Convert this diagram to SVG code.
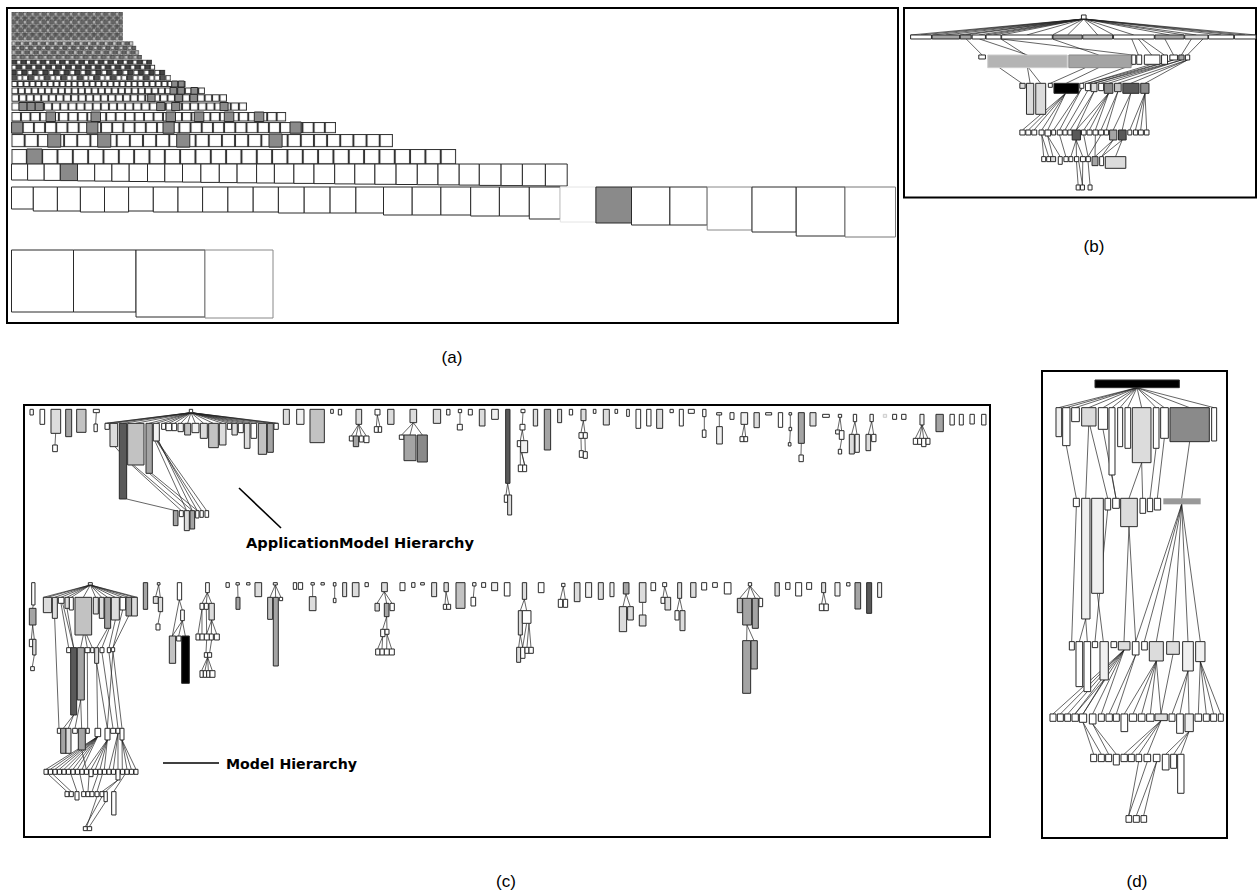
<svg xmlns="http://www.w3.org/2000/svg" width="1258" height="895" viewBox="0 0 1258 895">
<style>
.f{fill:none;stroke:#000;stroke-width:2}
.w{fill:#fff}.v{fill:#f0f0f0}.l{fill:#dcdcdc}.m{fill:#c2c2c2}.g{fill:#a4a4a4}.h{fill:#8a8a8a}.d{fill:#595959}.k{fill:#000}
.n rect{stroke:#2a2a2a;stroke-width:1;vector-effect:non-scaling-stroke}
.e{fill:none;stroke:#222;stroke-width:.7;vector-effect:non-scaling-stroke}
.lab{font-family:"Liberation Sans",Arial,sans-serif;font-size:17px;fill:#000;text-anchor:middle}
.cap{font-family:"DejaVu Sans",Verdana,sans-serif;font-weight:bold;font-size:14px;fill:#000}
</style>
<defs>
<pattern id="p1" patternUnits="userSpaceOnUse" x="11.5" y="149" width="15.33" height="15.33"><rect x=".5" y=".5" width="14.33" height="14.33" fill="#fff" stroke="#333"/></pattern>
<pattern id="p2" patternUnits="userSpaceOnUse" x="11.5" y="134" width="13.15" height="13.15"><rect x=".5" y=".5" width="12.15" height="12.15" fill="#fff" stroke="#333"/></pattern>
<pattern id="p3" patternUnits="userSpaceOnUse" x="11.5" y="122" width="11.19" height="11.19"><rect x=".5" y=".5" width="10.19" height="10.19" fill="#fff" stroke="#333"/></pattern>
<pattern id="p4" patternUnits="userSpaceOnUse" x="11.5" y="112" width="9.47" height="9.47"><rect x=".5" y=".5" width="8.47" height="8.47" fill="#fff" stroke="#333"/></pattern>
<pattern id="p5" patternUnits="userSpaceOnUse" x="11.5" y="102.5" width="8.12" height="8.12"><rect x=".5" y=".5" width="7.12" height="7.12" fill="#fff" stroke="#333"/></pattern>
<pattern id="p6" patternUnits="userSpaceOnUse" x="11.5" y="94.3" width="7.43" height="7.43"><rect x=".5" y=".5" width="6.43" height="6.43" fill="#fff" stroke="#333"/></pattern>
<pattern id="p7" patternUnits="userSpaceOnUse" x="11.5" y="87.5" width="6.67" height="6.67"><rect x=".5" y=".5" width="5.67" height="5.67" fill="#fff" stroke="#333"/></pattern>
<pattern id="p8" patternUnits="userSpaceOnUse" x="11.5" y="81" width="6" height="6"><rect x=".5" y=".5" width="5" height="5" fill="#fff" stroke="#333"/></pattern>
<pattern id="p9" patternUnits="userSpaceOnUse" x="11.5" y="75.2" width="16.5" height="5.5"><rect x=".4" y=".4" width="4.7" height="4.7" fill="#555" stroke="#222" stroke-width=".8"/><rect x="5.9" y=".4" width="4.7" height="4.7" fill="#fff" stroke="#222" stroke-width=".8"/><rect x="11.4" y=".4" width="4.7" height="4.7" fill="#fff" stroke="#222" stroke-width=".8"/></pattern>
<pattern id="p10" patternUnits="userSpaceOnUse" x="11.5" y="69.9" width="10.6" height="5.3"><rect x=".4" y=".4" width="4.5" height="4.5" fill="#444" stroke="#222" stroke-width=".8"/><rect x="5.7" y=".4" width="4.5" height="4.5" fill="#fff" stroke="#222" stroke-width=".8"/></pattern>
<pattern id="p11" patternUnits="userSpaceOnUse" x="11.5" y="64.8" width="9.9" height="4.95"><rect x=".4" y=".4" width="4.15" height="4.15" fill="#fff" stroke="#222" stroke-width=".8"/><rect x="5.35" y=".4" width="4.15" height="4.15" fill="#444" stroke="#222" stroke-width=".8"/></pattern>
<pattern id="p12" patternUnits="userSpaceOnUse" x="11.5" y="59.8" width="9.68" height="4.84"><rect x=".4" y=".4" width="4.04" height="4.04" fill="#444" stroke="#222" stroke-width=".8"/><rect x="5.24" y=".4" width="4.04" height="4.04" fill="#fff" stroke="#222" stroke-width=".8"/></pattern>
<pattern id="p13" patternUnits="userSpaceOnUse" x="11.5" y="55" width="9" height="4.5"><rect x=".4" y=".4" width="3.7" height="3.7" fill="#777" stroke="#333" stroke-width=".7"/><rect x="4.9" y=".4" width="3.7" height="3.7" fill="#bbb" stroke="#333" stroke-width=".7"/></pattern>
<pattern id="p14" patternUnits="userSpaceOnUse" x="11.5" y="50.3" width="8.8" height="4.4"><rect x=".4" y=".4" width="3.6" height="3.6" fill="#bbb" stroke="#333" stroke-width=".7"/><rect x="4.8" y=".4" width="3.6" height="3.6" fill="#666" stroke="#333" stroke-width=".7"/></pattern>
<pattern id="p15" patternUnits="userSpaceOnUse" x="11.5" y="45.8" width="8.6" height="4.3"><rect x=".4" y=".4" width="3.5" height="3.5" fill="#666" stroke="#333" stroke-width=".7"/><rect x="4.7" y=".4" width="3.5" height="3.5" fill="#ccc" stroke="#333" stroke-width=".7"/></pattern>
<pattern id="p16" patternUnits="userSpaceOnUse" x="11.5" y="41.4" width="8.4" height="4.2"><rect x=".4" y=".4" width="3.4" height="3.4" fill="#ccc" stroke="#333" stroke-width=".7"/><rect x="4.6" y=".4" width="3.4" height="3.4" fill="#666" stroke="#333" stroke-width=".7"/></pattern>
<pattern id="p17" patternUnits="userSpaceOnUse" x="11.5" y="12" width="7.68" height="8.2"><rect x=".4" y=".4" width="3.04" height="3.3" fill="#666" stroke="#3a3a3a" stroke-width=".6"/><rect x="4.24" y=".4" width="3.04" height="3.3" fill="#b0b0b0" stroke="#3a3a3a" stroke-width=".6"/><rect x=".4" y="4.5" width="3.04" height="3.3" fill="#999" stroke="#3a3a3a" stroke-width=".6"/><rect x="4.24" y="4.5" width="3.04" height="3.3" fill="#555" stroke="#3a3a3a" stroke-width=".6"/></pattern>
</defs>
<rect width="1258" height="895" fill="#fff"/>

<g id="panel-a">
<rect class="f" x="7" y="8" width="891" height="315"/>
<g id="a-pattern-rows">
<rect x="11.5" y="12" width="111.4" height="28.7" fill="url(#p17)"/>
<rect x="11.5" y="41.4" width="121.8" height="4.2" fill="url(#p16)"/>
<rect x="11.5" y="45.8" width="124.7" height="4.3" fill="url(#p15)"/>
<rect x="11.5" y="50.3" width="127.6" height="4.4" fill="url(#p14)"/>
<rect x="11.5" y="55" width="130.5" height="4.5" fill="url(#p13)"/>
<rect x="11.5" y="59.8" width="140.4" height="4.84" fill="url(#p12)"/>
<rect x="11.5" y="64.8" width="143.6" height="4.95" fill="url(#p11)"/>
<rect x="11.5" y="69.9" width="153.7" height="5.3" fill="url(#p10)"/>
<rect x="11.5" y="75.2" width="159.5" height="5.5" fill="url(#p9)"/>
<rect x="11.5" y="81" width="174" height="6" fill="url(#p8)"/>
<rect x="11.5" y="87.5" width="193.4" height="6.67" fill="url(#p7)"/>
<rect x="11.5" y="94.3" width="215.5" height="7.43" fill="url(#p6)"/>
<rect x="11.5" y="102.5" width="235.5" height="8.12" fill="url(#p5)"/>
<rect x="11.5" y="112" width="274.6" height="9.47" fill="url(#p4)"/>
<rect x="11.5" y="122" width="324.5" height="11.19" fill="url(#p3)"/>
<rect x="11.5" y="134" width="381.4" height="13.15" fill="url(#p2)"/>
<rect x="11.5" y="149" width="444.6" height="15.33" fill="url(#p1)"/>
</g>
<g id="a-gray-cells" class="n">
<rect class="h" x="26.8" y="149" width="15.3" height="15.3"/>
<rect class="h" x="47.7" y="134" width="13.1" height="13.1"/><rect class="h" x="97.7" y="134" width="13.1" height="13.1"/><rect class="h" x="176.7" y="134" width="13.1" height="13.1"/><rect class="h" x="269" y="134" width="13.1" height="13.1"/>
<rect class="h" x="11.6" y="122" width="11.2" height="11.2"/><rect class="h" x="86.7" y="122" width="11.2" height="11.2"/><rect class="h" x="163" y="122" width="11.2" height="11.2"/><rect class="h" x="290" y="122" width="11.2" height="11.2"/>
<rect class="h" x="46" y="112" width="9.5" height="9.5"/><rect class="h" x="91" y="112" width="9.5" height="9.5"/><rect class="h" x="166" y="112" width="9.5" height="9.5"/><rect class="h" x="194.3" y="112" width="9.5" height="9.5"/><rect class="h" x="224.3" y="112" width="9.5" height="9.5"/><rect class="h" x="254.3" y="112" width="9.5" height="9.5"/>
<rect class="h" x="19" y="102.5" width="8.1" height="8.1"/><rect class="h" x="27.1" y="102.5" width="8.1" height="8.1"/><rect class="h" x="35.2" y="102.5" width="8.1" height="8.1"/><rect class="h" x="156.7" y="102.5" width="8.1" height="8.1"/><rect class="h" x="171.7" y="102.5" width="8.1" height="8.1"/><rect class="h" x="220" y="102.5" width="8.1" height="8.1"/>
<rect class="h" x="147.7" y="94.3" width="7.4" height="7.4"/><rect class="h" x="175" y="94.3" width="7.4" height="7.4"/><rect class="h" x="190" y="94.3" width="7.4" height="7.4"/>
<rect class="h" x="170" y="87.5" width="6.7" height="6.7"/><rect class="h" x="177.7" y="87.5" width="6.7" height="6.7"/><rect class="h" x="191" y="87.5" width="6.7" height="6.7"/>
<rect class="h" x="171.7" y="81" width="6" height="6"/><rect class="h" x="178.3" y="81" width="6" height="6"/>
</g>
<g id="a-row-b" class="n">
<rect class="w" x="11.5" y="164" width="16.1" height="16"/><rect class="w" x="27.6" y="164" width="16.6" height="16.2"/><rect class="w" x="44.2" y="164" width="16.1" height="16.4"/><rect class="h" x="60.3" y="164" width="17.2" height="16.6"/><rect class="w" x="77.5" y="164" width="17.2" height="16.9"/><rect class="w" x="94.7" y="164" width="17.2" height="17.1"/><rect class="w" x="111.9" y="164" width="17.3" height="17.3"/><rect class="w" x="129.2" y="164" width="18.3" height="17.5"/><rect class="w" x="147.5" y="164" width="17.3" height="17.7"/><rect class="w" x="164.8" y="164" width="17.7" height="17.9"/><rect class="w" x="182.5" y="164" width="18.4" height="18.1"/><rect class="w" x="200.9" y="164" width="18.4" height="18.4"/><rect class="w" x="219.3" y="164" width="17.8" height="18.6"/><rect class="w" x="237.1" y="164" width="19.5" height="18.8"/><rect class="w" x="256.6" y="164" width="17.8" height="19"/><rect class="w" x="274.4" y="164" width="19.5" height="19.2"/><rect class="w" x="293.9" y="164" width="20.1" height="19.4"/><rect class="w" x="314" y="164" width="20.7" height="19.6"/><rect class="w" x="334.7" y="164" width="20.1" height="19.9"/><rect class="w" x="354.8" y="164" width="20.1" height="20.1"/><rect class="w" x="374.9" y="164" width="21.2" height="20.3"/><rect class="w" x="396.1" y="164" width="21.2" height="20.5"/><rect class="w" x="417.3" y="164" width="20.7" height="20.7"/><rect class="w" x="438" y="164" width="21.2" height="20.9"/><rect class="w" x="459.2" y="164" width="20.1" height="21.1"/><rect class="w" x="479.3" y="164" width="21.8" height="21.4"/><rect class="w" x="501.1" y="164" width="21.3" height="21.6"/><rect class="w" x="522.4" y="164" width="23" height="21.8"/><rect class="w" x="545.4" y="164" width="21.8" height="22"/>
</g>
<g id="a-row-c" class="n">
<rect class="w" x="11.5" y="187" width="21.8" height="22"/><rect class="w" x="33.3" y="187" width="24.1" height="24"/><rect class="w" x="57.4" y="187" width="23" height="24"/><rect class="w" x="80.4" y="187" width="24.1" height="25"/><rect class="w" x="104.5" y="187" width="24.1" height="25"/><rect class="w" x="128.6" y="187" width="24.7" height="24"/><rect class="w" x="153.3" y="187" width="24.7" height="25"/><rect class="w" x="178" y="187" width="24.6" height="25"/><rect class="w" x="202.6" y="187" width="25.3" height="25"/><rect class="w" x="227.9" y="187" width="25.3" height="25"/><rect class="w" x="253.2" y="187" width="25.2" height="25"/><rect class="w" x="278.4" y="187" width="25.8" height="26"/><rect class="w" x="304.2" y="187" width="25.9" height="26"/><rect class="w" x="330.1" y="187" width="25.8" height="26"/><rect class="w" x="355.9" y="187" width="27.6" height="26"/><rect class="w" x="383.5" y="187" width="28.7" height="28"/><rect class="w" x="412.2" y="187" width="28.7" height="28"/><rect class="w" x="440.9" y="187" width="29.8" height="28"/><rect class="w" x="470.7" y="187" width="28.7" height="29"/><rect class="w" x="499.4" y="187" width="29.9" height="29"/><rect class="w" x="529.3" y="187" width="31" height="32"/><rect class="w" x="560.3" y="187" width="35.6" height="35" style="stroke:#e4e4e4"/><rect class="h" x="595.9" y="187" width="35.6" height="36"/><rect class="w" x="631.5" y="187" width="38.4" height="38"/><rect class="w" x="669.9" y="187" width="37.3" height="38"/><rect class="w" x="707.2" y="187" width="44.8" height="43" style="stroke:#888"/><rect class="w" x="752" y="187" width="44.2" height="45"/><rect class="w" x="796.2" y="187" width="48.8" height="49"/><rect class="w" x="845" y="187" width="50.5" height="50" style="stroke:#777"/>
</g>
<g id="a-row-d" class="n">
<rect class="w" x="11.5" y="250" width="62" height="62"/><rect class="w" x="73.5" y="250" width="62.5" height="62"/><rect class="w" x="136" y="250" width="69" height="67"/><rect class="w" x="205" y="250" width="68" height="68" style="stroke:#888"/>
</g>
</g>

<g id="panel-b">
<rect class="f" x="904" y="8" width="352" height="189.5"/>
<g id="b-tree" transform="translate(900,5) scale(.3311,.3333)">
<path class="e" d="M555 42 63 90M555 42 32 90M555 42 138 90M555 42 198 90M555 42 238 90M555 42 282 90M555 42 383 90M555 42 506 90M555 42 597 90M555 42 706 90M555 42 814 90M555 42 895 90M555 42 970 90M555 42 1042 90M555 42 1075 90M555 42 100 90M555 42 180 90M555 42 260 90M555 42 307 90M555 42 460 90M555 42 645 90M555 42 858 90M555 42 1010 90M200 102 248 150M240 102 385 150M305 102 380 150M305 102 702 150M460 102 600 150M700 102 720 150M720 102 760 150M730 102 798 150M800 102 826 150M880 102 850 150M915 102 868 150M300 188 368 235M385 188 393 235M388 188 425 235M560 188 454 235M600 188 502 235M706 178 549 235M760 178 567 235M799 178 586 235M826 165 586 235M826 165 567 235M850 165 607 235M850 165 630 235M868 165 658 235M868 165 697 235M868 165 740 235M500 265 370 375M500 265 388 375M500 265 405 375M500 265 428 375M500 265 446 375M549 250 464 375M549 250 482 375M567 257 498 375M586 260 514 375M586 260 532 375M630 265 532 375M630 265 555 375M630 265 572 375M630 265 590 375M658 260 607 375M658 260 623 375M697 265 644 375M697 265 671 375M740 265 694 375M740 265 711 375M740 265 727 375M740 265 745 375M428 390 434 455M428 390 449 455M446 393 462 455M446 393 484 455M482 390 501 455M532 405 516 455M532 405 533 455M532 405 552 455M555 390 568 455M590 390 589 455M607 390 568 455M644 405 589 455M644 405 609 455M671 405 609 455M671 405 651 455M533 470 538 540M540 470 551 540M552 470 551 540M568 470 574 540"/>
<g class="n">
<rect class="w" x="548" y="30" width="14" height="12"/>
<rect class="w" x="32" y="90" width="63" height="12"/><rect class="g" x="97" y="90" width="83" height="12"/><rect class="g" x="182" y="90" width="33" height="12"/><rect class="w" x="218" y="90" width="40" height="12"/><rect class="w" x="260" y="90" width="45" height="12"/><rect class="w" x="307" y="90" width="153" height="12"/><rect class="g" x="462" y="90" width="88" height="12"/><rect class="m" x="552" y="90" width="90" height="12"/><rect class="w" x="645" y="90" width="123" height="12"/><rect class="g" x="770" y="90" width="88" height="12"/><rect class="l" x="860" y="90" width="70" height="12"/><rect class="w" x="932" y="90" width="76" height="12"/><rect class="w" x="1010" y="90" width="65" height="12"/>
<rect class="w" x="238" y="150" width="20" height="12"/><rect x="265" y="150" width="240" height="38" fill="#b4b4b4" style="stroke:#ccc"/><rect x="510" y="150" width="188" height="38" fill="#a4a4a4" style="stroke:#888"/><rect class="w" x="700" y="150" width="12" height="28"/><rect class="w" x="715" y="150" width="15" height="28"/><rect class="w" x="738" y="150" width="47" height="28"/><rect class="w" x="790" y="150" width="18" height="28"/><rect class="w" x="815" y="150" width="23" height="15"/><rect class="g" x="842" y="150" width="16" height="15"/><rect class="w" x="862" y="150" width="13" height="15"/>
<rect class="l" x="362" y="235" width="16" height="15"/><rect class="l" x="382" y="235" width="22" height="93"/><rect class="l" x="410" y="235" width="30" height="93"/><rect class="w" x="448" y="235" width="12" height="12"/><rect class="k" x="465" y="235" width="75" height="30"/><rect class="w" x="543" y="235" width="12" height="15"/><rect class="w" x="560" y="235" width="15" height="22"/><rect class="l" x="577" y="235" width="18" height="25"/><rect class="w" x="600" y="235" width="15" height="22"/><rect class="h" x="617" y="235" width="26" height="30"/><rect class="m" x="648" y="235" width="20" height="25"/><rect class="d" x="673" y="235" width="49" height="30"/><rect class="h" x="727" y="235" width="25" height="30"/>
<rect class="w" x="362" y="375" width="16" height="15"/><rect class="w" x="380" y="375" width="15" height="15"/><rect class="w" x="398" y="375" width="15" height="15"/><rect class="w" x="420" y="375" width="15" height="15"/><rect class="w" x="438" y="375" width="17" height="18"/><rect class="w" x="458" y="375" width="12" height="15"/><rect class="w" x="475" y="375" width="15" height="15"/><rect class="w" x="492" y="375" width="13" height="15"/><rect class="w" x="507" y="375" width="13" height="15"/><rect class="d" x="520" y="375" width="25" height="30"/><rect class="w" x="548" y="375" width="14" height="15"/><rect class="w" x="565" y="375" width="15" height="15"/><rect class="w" x="583" y="375" width="15" height="15"/><rect class="w" x="600" y="375" width="15" height="15"/><rect class="w" x="617" y="375" width="13" height="15"/><rect class="g" x="633" y="375" width="22" height="30"/><rect class="d" x="660" y="375" width="23" height="30"/><rect class="w" x="688" y="375" width="12" height="15"/><rect class="w" x="705" y="375" width="13" height="15"/><rect class="w" x="720" y="375" width="15" height="15"/><rect class="w" x="738" y="375" width="14" height="15"/>
<rect class="w" x="428" y="455" width="12" height="15"/><rect class="w" x="443" y="455" width="12" height="15"/><rect class="l" x="455" y="455" width="15" height="15"/><rect class="w" x="478" y="455" width="12" height="23"/><rect class="w" x="495" y="455" width="13" height="15"/><rect class="w" x="510" y="455" width="12" height="15"/><rect class="w" x="527" y="455" width="13" height="15"/><rect class="w" x="545" y="455" width="15" height="15"/><rect class="w" x="562" y="455" width="13" height="15"/><rect class="g" x="580" y="455" width="18" height="27"/><rect class="w" x="603" y="455" width="12" height="27"/><rect class="l" x="620" y="455" width="62" height="35"/>
<rect class="w" x="532" y="540" width="12" height="15"/><rect class="w" x="545" y="540" width="12" height="15"/><rect class="w" x="568" y="540" width="12" height="15"/>
</g>
</g>
</g>

<g id="panel-c">
<rect class="f" x="24" y="405" width="966" height="432"/>
<g id="c-top-left" transform="translate(20,400) scale(.3333)">
<path class="e" d="M107 100 105 135M229 38 227 72M513 38 261 70M513 38 281 70M513 38 309 70M513 38 347 70M513 38 387 70M513 38 409 70M513 38 431 70M513 38 446 70M513 38 463 70M513 38 482 70M513 38 503 70M513 38 526 70M513 38 551 70M513 38 580 70M513 38 608 70M513 38 628 70M513 38 644 70M513 38 662 70M513 38 681 70M513 38 701 70M513 38 727 70M513 38 751 70M513 38 768 70M513 38 255 70M513 38 775 70M320 297 467 332M335 195 484 332M340 195 500 332M388 220 517 332M395 220 532 332M405 123 500 332M410 123 545 332M412 123 560 332M414 123 532 332M416 123 517 332M285 140 298 155"/>
<g class="n">
<rect class="w" x="30" y="28" width="10" height="17"/><rect class="w" x="60" y="28" width="14" height="45"/><rect class="l" x="93" y="28" width="29" height="72"/><rect class="w" x="98" y="135" width="14" height="20"/><rect class="g" x="137" y="28" width="18" height="82"/><rect class="m" x="170" y="28" width="28" height="69"/><rect class="w" x="220" y="28" width="18" height="10"/><rect class="w" x="222" y="72" width="10" height="23"/>
<rect class="w" x="508" y="28" width="10" height="10"/>
<rect class="w" x="255" y="70" width="13" height="18"/><rect class="l" x="270" y="70" width="23" height="70"/><rect class="d" x="298" y="70" width="22" height="227"/><rect class="m" x="323" y="70" width="49" height="125"/><rect class="g" x="378" y="70" width="19" height="150"/><rect class="v" x="400" y="70" width="18" height="53"/><rect class="w" x="425" y="70" width="12" height="18"/><rect class="w" x="438" y="70" width="17" height="22"/><rect class="w" x="456" y="70" width="14" height="22"/><rect class="v" x="474" y="70" width="16" height="25"/><rect class="m" x="494" y="70" width="18" height="35"/><rect class="v" x="516" y="70" width="21" height="28"/><rect class="l" x="541" y="70" width="21" height="45"/><rect class="m" x="566" y="70" width="29" height="73"/><rect class="l" x="598" y="70" width="20" height="65"/><rect class="w" x="622" y="70" width="13" height="18"/><rect class="l" x="636" y="70" width="16" height="35"/><rect class="w" x="655" y="70" width="15" height="28"/><rect class="l" x="673" y="70" width="17" height="75"/><rect class="w" x="693" y="70" width="17" height="45"/><rect class="m" x="715" y="70" width="25" height="93"/><rect class="g" x="742" y="70" width="18" height="87"/><rect class="w" x="762" y="70" width="13" height="18"/>
<rect class="g" x="460" y="332" width="14" height="45"/><rect class="w" x="478" y="332" width="12" height="18"/><rect class="l" x="493" y="332" width="15" height="60"/><rect class="g" x="510" y="332" width="14" height="55"/><rect class="w" x="527" y="332" width="10" height="22"/><rect class="w" x="540" y="332" width="10" height="20"/><rect class="w" x="555" y="332" width="11" height="20"/>
</g>
</g>
<g id="c-top-mid" transform="translate(280,400) scale(.3333)">
<path class="e" d="M236 73 214 108M236 73 228 108M236 73 244 108M236 73 259 108M292 45 289 80M292 45 300 80M400 68 365 105M400 68 390 105M400 68 427 105M540 38 540 73M683 250 678 285M683 250 689 285M729 38 727 73M727 90 721 122M727 90 732 122M721 140 721 195M725 158 734 195M721 140 734 195M910 62 903 98M910 62 915 98M903 115 904 152M915 115 916 155"/>
<g class="n">
<rect class="l" x="10" y="28" width="18" height="45"/><rect class="v" x="50" y="28" width="22" height="45"/><rect class="m" x="90" y="28" width="43" height="100"/><rect class="w" x="152" y="28" width="8" height="12"/><rect class="w" x="175" y="28" width="10" height="17"/>
<rect class="l" x="228" y="28" width="17" height="45"/><rect class="w" x="208" y="108" width="12" height="15"/><rect class="g" x="220" y="108" width="16" height="32"/><rect class="w" x="238" y="108" width="12" height="18"/><rect class="w" x="252" y="108" width="15" height="20"/>
<rect class="w" x="285" y="28" width="15" height="17"/><rect class="w" x="283" y="80" width="12" height="17"/><rect class="w" x="295" y="80" width="10" height="17"/>
<rect class="l" x="323" y="28" width="19" height="45"/>
<rect class="l" x="390" y="28" width="20" height="40"/><rect class="w" x="358" y="105" width="14" height="13"/><rect class="g" x="372" y="105" width="36" height="77"/><rect class="h" x="412" y="105" width="30" height="81"/>
<rect class="l" x="460" y="28" width="22" height="42"/><rect class="w" x="500" y="28" width="10" height="17"/><rect class="w" x="535" y="28" width="10" height="10"/><rect class="w" x="532" y="73" width="15" height="17"/><rect class="w" x="565" y="28" width="12" height="17"/><rect class="l" x="598" y="28" width="17" height="50"/><rect class="v" x="635" y="28" width="20" height="30"/>
<rect class="d" x="677" y="28" width="13" height="222"/><rect class="w" x="673" y="285" width="10" height="22"/><rect class="l" x="683" y="285" width="12" height="60"/>
<rect class="w" x="723" y="28" width="12" height="10"/><rect class="w" x="720" y="73" width="15" height="17"/><rect class="w" x="712" y="122" width="18" height="18"/><rect class="v" x="722" y="122" width="21" height="36"/><rect class="w" x="715" y="195" width="13" height="20"/><rect class="w" x="728" y="195" width="12" height="20"/>
<rect class="l" x="760" y="28" width="13" height="50"/><rect class="g" x="793" y="28" width="19" height="122"/><rect class="l" x="833" y="28" width="12" height="40"/><rect class="w" x="868" y="28" width="10" height="17"/>
<rect class="l" x="903" y="28" width="15" height="34"/><rect class="w" x="897" y="98" width="13" height="17"/><rect class="w" x="910" y="98" width="12" height="17"/><rect class="w" x="898" y="152" width="12" height="20"/><rect class="w" x="910" y="155" width="12" height="20"/>
<rect class="w" x="940" y="28" width="8" height="12"/><rect class="l" x="970" y="28" width="18" height="47"/><rect class="w" x="1005" y="28" width="8" height="12"/>
</g>
</g>
<g id="c-top-right" transform="translate(620,400) scale(.3333)">
<path class="e" d="M253 50 253 90M298 45 298 80M373 73 366 110M373 73 377 110M511 45 511 82M511 92 509 128M544 130 543 165M660 52 653 90M660 52 665 92M665 118 660 148M705 65 695 103M705 65 711 103M755 65 745 103M755 65 761 103M906 75 886 115M906 75 899 115M906 75 911 115M906 75 924 115"/>
<g class="n">
<rect class="w" x="20" y="28" width="8" height="21"/><rect class="w" x="48" y="28" width="14" height="57"/><rect class="w" x="80" y="28" width="13" height="50"/><rect class="l" x="110" y="28" width="18" height="57"/><rect class="w" x="150" y="28" width="10" height="10"/><rect class="w" x="178" y="28" width="12" height="50"/><rect class="w" x="205" y="28" width="18" height="12"/>
<rect class="w" x="248" y="28" width="10" height="22"/><rect class="w" x="247" y="90" width="11" height="22"/>
<rect class="w" x="290" y="38" width="15" height="7"/><rect class="v" x="290" y="80" width="17" height="52"/>
<rect class="w" x="330" y="38" width="12" height="20"/>
<rect class="v" x="363" y="38" width="20" height="35"/><rect class="w" x="360" y="110" width="12" height="15"/><rect class="w" x="372" y="110" width="11" height="15"/>
<rect class="l" x="402" y="38" width="16" height="45"/><rect class="w" x="437" y="38" width="18" height="7"/><rect class="w" x="475" y="38" width="13" height="44"/>
<rect class="w" x="507" y="38" width="8" height="7"/><rect class="w" x="507" y="82" width="8" height="10"/><rect class="w" x="505" y="128" width="8" height="10"/>
<rect class="g" x="535" y="38" width="18" height="92"/><rect class="w" x="537" y="165" width="13" height="20"/>
<rect class="l" x="570" y="38" width="18" height="40"/><rect class="w" x="608" y="43" width="20" height="9"/>
<rect class="w" x="655" y="43" width="10" height="9"/><rect class="w" x="647" y="90" width="13" height="12"/><rect class="w" x="658" y="92" width="14" height="26"/><rect class="w" x="655" y="148" width="10" height="14"/>
<rect class="w" x="700" y="43" width="10" height="22"/><rect class="l" x="688" y="103" width="15" height="59"/><rect class="v" x="705" y="103" width="13" height="54"/>
<rect class="w" x="750" y="43" width="10" height="22"/><rect class="l" x="738" y="103" width="14" height="49"/><rect class="w" x="755" y="103" width="13" height="22"/>
<rect class="v" x="790" y="43" width="10" height="9" style="stroke:#ccc"/><rect class="w" x="818" y="43" width="12" height="15"/><rect class="w" x="845" y="43" width="13" height="15"/>
<rect class="v" x="900" y="43" width="12" height="32"/><rect class="w" x="880" y="115" width="13" height="18"/><rect class="w" x="893" y="115" width="12" height="18"/><rect class="w" x="905" y="115" width="13" height="25"/><rect class="w" x="918" y="115" width="12" height="18"/>
<rect class="g" x="948" y="43" width="22" height="52"/><rect class="w" x="990" y="43" width="13" height="32"/><rect class="w" x="1018" y="43" width="12" height="32"/><rect class="w" x="1050" y="43" width="13" height="29"/><rect class="w" x="1085" y="43" width="13" height="32"/>
</g>
</g>
<g id="c-bottom-left" transform="translate(20,570) scale(.3333)">
<path class="e" d="M40 105 38 115M38 165 34 208M38 165 43 208M43 255 37 290M211 45 82 82M211 45 104 82M211 45 123 82M211 45 141 82M211 45 154 82M211 45 190 82M211 45 227 82M211 45 245 82M211 45 263 82M211 45 286 82M211 45 308 82M211 45 326 82M211 45 343 82M211 45 70 82M211 45 352 82M123 100 146 233M128 100 161 233M141 115 161 233M190 195 182 233M195 195 202 233M200 195 217 233M263 175 230 233M268 175 246 233M286 150 267 233M308 120 279 233M326 138 279 233M104 145 117 475M161 435 130 475M161 435 145 475M182 390 165 475M182 390 185 475M202 248 203 475M230 280 233 475M230 280 262 475M246 248 279 475M267 248 294 475M279 245 306 475M279 245 262 475M233 500 78 598M233 500 91 598M233 500 105 598M233 500 118 598M233 500 132 598M233 500 145 598M233 500 159 598M233 500 172 598M233 500 186 598M262 510 199 598M262 510 213 598M262 510 226 598M262 510 240 598M262 510 253 598M185 540 199 598M294 490 267 598M294 490 280 598M294 490 294 598M306 510 307 598M306 510 321 598M306 510 334 598M306 510 348 598M85 613 141 665M99 613 154 665M153 613 171 665M180 613 191 665M207 620 204 665M234 613 216 665M247 613 231 665M294 630 246 665M294 630 257 665M315 613 281 665M246 680 196 770M257 695 208 770M231 680 200 770M416 45 407 80M416 45 421 82M421 125 414 162M478 90 487 120M478 90 457 198M487 152 457 198M487 152 476 198M487 152 496 198M562 68 546 100M562 68 559 100M562 68 575 100M546 118 534 192M546 118 546 192M559 118 560 192M575 150 574 192M575 150 590 192M575 150 560 192M560 210 558 248M575 210 569 248M563 262 545 302M563 262 555 302M563 262 565 302M563 262 577 302M653 45 654 82M766 45 750 82M766 45 767 82M766 45 783 82M878 45 878 80"/>
<g class="n">
<rect class="w" x="35" y="38" width="10" height="67"/><rect class="g" x="28" y="115" width="20" height="50"/><rect class="w" x="28" y="208" width="12" height="22"/><rect class="l" x="38" y="208" width="10" height="47"/><rect class="w" x="32" y="290" width="11" height="12"/>
<rect class="w" x="205" y="38" width="12" height="7"/>
<rect class="l" x="70" y="82" width="25" height="46"/><rect class="l" x="97" y="82" width="15" height="63"/><rect class="w" x="115" y="82" width="17" height="18"/><rect class="l" x="135" y="82" width="13" height="33"/><rect class="w" x="148" y="82" width="12" height="38"/><rect class="m" x="165" y="82" width="50" height="113"/><rect class="l" x="220" y="82" width="15" height="50"/><rect class="l" x="238" y="82" width="14" height="63"/><rect class="g" x="254" y="82" width="18" height="93"/><rect class="l" x="274" y="82" width="24" height="68"/><rect class="w" x="300" y="82" width="17" height="38"/><rect class="g" x="318" y="82" width="17" height="56"/><rect class="l" x="335" y="82" width="17" height="56"/>
<rect class="w" x="140" y="233" width="12" height="15"/><rect class="d" x="152" y="233" width="18" height="202"/><rect class="g" x="172" y="233" width="21" height="157"/><rect class="w" x="195" y="233" width="15" height="15"/><rect class="w" x="212" y="233" width="10" height="15"/><rect class="l" x="224" y="233" width="12" height="47"/><rect class="w" x="240" y="233" width="12" height="15"/><rect class="w" x="262" y="233" width="10" height="15"/><rect class="w" x="274" y="233" width="10" height="12"/>
<rect class="w" x="112" y="475" width="10" height="15"/><rect class="g" x="122" y="475" width="16" height="75"/><rect class="l" x="138" y="475" width="15" height="75"/><rect class="w" x="158" y="475" width="14" height="15"/><rect class="g" x="175" y="475" width="21" height="65"/><rect class="w" x="198" y="475" width="10" height="15"/><rect class="w" x="225" y="475" width="17" height="25"/><rect class="w" x="255" y="475" width="15" height="35"/><rect class="w" x="272" y="475" width="15" height="15"/><rect class="w" x="288" y="475" width="12" height="15"/><rect class="w" x="300" y="475" width="12" height="35"/>
<rect class="w" x="72" y="598" width="12" height="15"/><rect class="w" x="85.5" y="598" width="12" height="15"/><rect class="w" x="99" y="598" width="12" height="15"/><rect class="w" x="112.5" y="598" width="12" height="15"/><rect class="w" x="126" y="598" width="12" height="15"/><rect class="w" x="139.5" y="598" width="12" height="15"/><rect class="w" x="153" y="598" width="12" height="15"/><rect class="w" x="166.5" y="598" width="12" height="15"/><rect class="w" x="180" y="598" width="12" height="15"/><rect class="w" x="193.5" y="598" width="12" height="15"/><rect class="w" x="207" y="598" width="12" height="22"/><rect class="w" x="220.5" y="598" width="12" height="15"/><rect class="w" x="234" y="598" width="12" height="15"/><rect class="w" x="247.5" y="598" width="12" height="15"/><rect class="w" x="261" y="598" width="12" height="15"/><rect class="w" x="274.5" y="598" width="12" height="15"/><rect class="w" x="288" y="598" width="12" height="32"/><rect class="w" x="301.5" y="598" width="12" height="15"/><rect class="w" x="315" y="598" width="12" height="15"/><rect class="w" x="328.5" y="598" width="12" height="15"/><rect class="w" x="342" y="598" width="12" height="15"/>
<rect class="w" x="135" y="665" width="12" height="15"/><rect class="w" x="148" y="665" width="12" height="15"/><rect class="w" x="165" y="665" width="12" height="25"/><rect class="w" x="185" y="665" width="12" height="15"/><rect class="w" x="198" y="665" width="12" height="15"/><rect class="w" x="210" y="665" width="12" height="15"/><rect class="w" x="225" y="665" width="12" height="15"/><rect class="w" x="240" y="665" width="12" height="15"/><rect class="w" x="252" y="665" width="10" height="30"/><rect class="w" x="275" y="665" width="13" height="70"/>
<rect class="w" x="190" y="770" width="12" height="12"/><rect class="w" x="202" y="770" width="13" height="12"/>
<rect class="g" x="370" y="38" width="13" height="80"/>
<rect class="w" x="412" y="38" width="8" height="7"/><rect class="l" x="400" y="80" width="15" height="20"/><rect class="l" x="415" y="82" width="13" height="43"/><rect class="w" x="408" y="162" width="12" height="18"/>
<rect class="w" x="472" y="38" width="13" height="52"/><rect class="w" x="482" y="120" width="11" height="32"/><rect class="m" x="448" y="198" width="19" height="82"/><rect class="w" x="470" y="198" width="13" height="15"/><rect class="k" x="485" y="198" width="23" height="142"/>
<rect class="w" x="557" y="38" width="11" height="30"/><rect class="w" x="540" y="100" width="12" height="18"/><rect class="w" x="553" y="100" width="12" height="18"/><rect class="l" x="567" y="100" width="16" height="50"/><rect class="w" x="528" y="192" width="12" height="18"/><rect class="w" x="540" y="192" width="13" height="18"/><rect class="w" x="553" y="192" width="15" height="18"/><rect class="w" x="568" y="192" width="12" height="18"/><rect class="w" x="583" y="192" width="15" height="18"/><rect class="w" x="553" y="248" width="10" height="14"/><rect class="w" x="563" y="248" width="12" height="14"/><rect class="w" x="540" y="302" width="10" height="20"/><rect class="w" x="550" y="302" width="10" height="20"/><rect class="w" x="560" y="302" width="10" height="20"/><rect class="w" x="570" y="302" width="15" height="20"/>
<rect class="w" x="618" y="38" width="10" height="14"/><rect class="w" x="648" y="38" width="10" height="7"/><rect class="g" x="648" y="82" width="12" height="36"/><rect class="w" x="680" y="38" width="10" height="7"/><rect class="l" x="705" y="38" width="20" height="42"/>
<rect class="w" x="760" y="38" width="12" height="7"/><rect class="m" x="743" y="82" width="15" height="66"/><rect class="g" x="760" y="82" width="15" height="206"/><rect class="w" x="778" y="82" width="10" height="10"/>
<rect class="w" x="820" y="38" width="10" height="20"/><rect class="w" x="835" y="38" width="13" height="20"/><rect class="w" x="873" y="38" width="10" height="7"/><rect class="l" x="868" y="80" width="20" height="42"/><rect class="w" x="903" y="38" width="10" height="7"/>
</g>
</g>
<g id="c-bottom-mid" transform="translate(330,570) scale(.3333)">
<path class="e" d="M14 48 14 85M163 65 141 100M163 65 170 100M163 65 186 100M170 140 158 178M170 140 171 178M158 200 143 237M158 200 156 237M171 193 170 237M171 193 185 237M348 65 345 103M348 65 356 103M433 48 430 82M583 88 571 122M583 88 590 122M571 195 566 232M571 195 578 232M590 160 578 232M597 160 591 232M597 160 603 232M700 50 691 88M700 50 706 88M888 72 879 110M888 72 901 110M938 97 938 135"/>
<g class="n">
<rect class="w" x="10" y="38" width="8" height="10"/><rect class="w" x="10" y="85" width="8" height="13"/><rect class="l" x="38" y="38" width="12" height="42"/><rect class="l" x="67" y="38" width="20" height="42"/><rect class="w" x="105" y="38" width="10" height="12"/>
<rect class="l" x="155" y="38" width="17" height="27"/><rect class="l" x="135" y="100" width="13" height="23"/><rect class="g" x="163" y="100" width="14" height="40"/><rect class="w" x="180" y="100" width="13" height="22"/><rect class="w" x="152" y="178" width="13" height="22"/><rect class="w" x="165" y="178" width="12" height="15"/><rect class="w" x="137" y="237" width="13" height="18"/><rect class="w" x="150" y="237" width="13" height="18"/><rect class="w" x="163" y="237" width="15" height="18"/><rect class="w" x="178" y="237" width="15" height="18"/>
<rect class="w" x="210" y="38" width="15" height="24"/><rect class="w" x="245" y="38" width="10" height="14"/><rect class="w" x="272" y="38" width="11" height="7"/><rect class="l" x="305" y="38" width="15" height="42"/>
<rect class="l" x="342" y="38" width="13" height="27"/><rect class="w" x="340" y="103" width="10" height="15"/><rect class="w" x="350" y="103" width="12" height="15"/>
<rect class="m" x="378" y="38" width="27" height="77"/><rect class="w" x="428" y="38" width="10" height="10"/><rect class="w" x="423" y="82" width="14" height="26"/><rect class="w" x="455" y="38" width="12" height="14"/><rect class="v" x="485" y="38" width="18" height="24"/><rect class="w" x="523" y="38" width="17" height="40"/>
<rect class="l" x="577" y="38" width="13" height="50"/><rect class="l" x="565" y="122" width="12" height="73"/><rect class="w" x="577" y="122" width="26" height="38"/><rect class="l" x="560" y="232" width="12" height="45"/><rect class="w" x="572" y="232" width="13" height="33"/><rect class="w" x="585" y="232" width="12" height="18"/><rect class="w" x="597" y="232" width="13" height="18"/>
<rect class="w" x="625" y="38" width="17" height="30"/><rect class="w" x="695" y="40" width="10" height="10"/><rect class="w" x="685" y="88" width="13" height="24"/><rect class="w" x="700" y="88" width="13" height="24"/>
<rect class="l" x="733" y="38" width="17" height="57"/><rect class="v" x="767" y="38" width="18" height="44"/><rect class="l" x="805" y="38" width="15" height="50"/><rect class="v" x="840" y="38" width="12" height="42"/>
<rect class="g" x="880" y="38" width="17" height="34"/><rect class="l" x="868" y="110" width="22" height="75"/><rect class="l" x="893" y="110" width="17" height="40"/>
<rect class="l" x="928" y="38" width="20" height="59"/><rect class="l" x="928" y="135" width="20" height="33"/><rect class="w" x="963" y="38" width="14" height="24"/>
</g>
</g>
<g id="c-bottom-right" transform="translate(640,570) scale(.3333)">
<path class="e" d="M74 50 69 82M74 50 83 82M119 85 111 122M119 85 127 122M330 48 299 85M330 48 321 85M330 48 346 85M330 48 362 85M321 165 320 212M321 165 342 212M551 68 545 102M551 68 558 102"/>
<g class="n">
<rect class="w" x="68" y="38" width="12" height="12"/><rect class="w" x="63" y="82" width="12" height="18"/><rect class="l" x="75" y="82" width="17" height="38"/>
<rect class="l" x="113" y="38" width="12" height="47"/><rect class="w" x="105" y="122" width="12" height="28"/><rect class="l" x="120" y="122" width="15" height="60"/>
<rect class="l" x="152" y="38" width="16" height="44"/><rect class="w" x="185" y="38" width="15" height="22"/><rect class="w" x="218" y="38" width="14" height="14"/><rect class="w" x="253" y="38" width="20" height="34"/>
<rect class="w" x="325" y="38" width="10" height="10"/><rect class="m" x="292" y="85" width="15" height="43"/><rect class="g" x="308" y="85" width="27" height="80"/><rect class="g" x="337" y="85" width="18" height="90"/><rect class="w" x="357" y="85" width="11" height="25"/><rect class="g" x="308" y="212" width="24" height="158"/><rect class="g" x="333" y="212" width="19" height="85"/>
<rect class="l" x="405" y="38" width="13" height="40"/><rect class="w" x="437" y="38" width="13" height="20"/><rect class="w" x="467" y="38" width="18" height="40"/><rect class="w" x="500" y="38" width="15" height="20"/>
<rect class="l" x="545" y="38" width="12" height="30"/><rect class="w" x="538" y="102" width="14" height="20"/><rect class="w" x="552" y="102" width="13" height="20"/>
<rect class="v" x="585" y="38" width="15" height="40"/><rect class="w" x="620" y="38" width="10" height="10"/><rect class="g" x="645" y="38" width="17" height="79"/><rect class="d" x="680" y="38" width="15" height="92"/><rect class="v" x="713" y="38" width="12" height="44"/>
</g>
</g>
<g id="c-annotations">
<line x1="239" y1="488" x2="281" y2="528" stroke="#000" stroke-width="1.6"/>
<text class="cap" x="246" y="548" textLength="228" lengthAdjust="spacingAndGlyphs">ApplicationModel Hierarchy</text>
<line x1="163" y1="763" x2="219" y2="763" stroke="#000" stroke-width="1.6"/>
<text class="cap" x="226" y="769" textLength="131" lengthAdjust="spacingAndGlyphs">Model Hierarchy</text>
</g>
</g>

<g id="panel-d">
<rect class="f" x="1042" y="371" width="185" height="467"/>
<g id="d-tree" transform="translate(1040,365) scale(.3333)">
<path class="e" d="M291 68 56 128M291 68 79 128M291 68 106 128M291 68 146 128M291 68 189 128M291 68 216 128M291 68 240 128M291 68 263 128M291 68 305 128M291 68 348 128M291 68 373 128M291 68 449 128M291 68 522 128M79 242 109 400M146 183 137 400M150 183 203 400M189 193 228 400M216 330 228 400M305 293 267 400M305 293 308 400M348 250 330 400M373 220 352 400M449 230 425 400M109 425 95 830M137 762 118 830M137 762 142 830M172 685 190 830M203 435 165 830M267 485 252 830M267 485 287 830M425 418 287 830M425 418 313 830M425 418 349 830M425 418 399 830M425 418 444 830M425 418 481 830M252 855 39 1047M252 855 61 1047M252 855 83 1047M252 855 105 1047M252 855 129 1047M252 855 158 1047M252 855 184 1047M192 945 105 1047M192 945 129 1047M287 870 207 1047M287 870 229 1047M349 888 253 1047M349 888 279 1047M349 888 305 1047M349 888 331 1047M349 888 363 1047M399 868 363 1047M444 918 396 1047M444 918 420 1047M444 918 447 1047M481 890 475 1047M481 890 499 1047M481 890 521 1047M481 890 542 1047M129 1072 161 1168M129 1072 184 1168M158 1077 206 1168M158 1077 229 1168M363 1067 252 1168M363 1067 274 1168M363 1067 296 1168M363 1067 322 1168M447 1100 377 1168M447 1100 401 1168M447 1100 422 1168M322 1190 266 1352M350 1190 289 1352M350 1190 311 1352M296 1190 266 1352"/>
<g class="n">
<rect class="k" x="165" y="45" width="253" height="23"/>
<rect class="v" x="48" y="128" width="17" height="87"/><rect class="w" x="68" y="128" width="22" height="114"/><rect class="w" x="95" y="128" width="23" height="42"/><rect class="l" x="125" y="128" width="43" height="55"/><rect class="w" x="175" y="128" width="28" height="65"/><rect class="w" x="207" y="128" width="18" height="202"/><rect class="w" x="233" y="128" width="15" height="117"/><rect class="w" x="255" y="128" width="17" height="122"/><rect class="l" x="277" y="128" width="56" height="165"/><rect class="w" x="340" y="128" width="17" height="122"/><rect class="w" x="362" y="128" width="23" height="92"/><rect class="h" x="390" y="128" width="118" height="102"/><rect class="w" x="515" y="128" width="15" height="100"/>
<rect class="w" x="100" y="400" width="18" height="25"/><rect class="v" x="125" y="400" width="25" height="362"/><rect class="v" x="155" y="400" width="35" height="285"/><rect class="w" x="195" y="400" width="17" height="35"/><rect class="w" x="218" y="400" width="20" height="30"/><rect class="l" x="242" y="400" width="50" height="85"/><rect class="w" x="300" y="400" width="17" height="45"/><rect class="w" x="322" y="400" width="16" height="40"/><rect class="w" x="343" y="400" width="19" height="35"/><rect x="370" y="400" width="112" height="18" fill="#999" style="stroke:none"/>
<rect class="w" x="88" y="830" width="15" height="25"/><rect class="w" x="108" y="830" width="20" height="135"/><rect class="w" x="132" y="830" width="20" height="150"/><rect class="w" x="157" y="830" width="16" height="18"/><rect class="v" x="180" y="830" width="25" height="115"/><rect class="w" x="213" y="830" width="17" height="18"/><rect class="l" x="235" y="830" width="35" height="25"/><rect class="w" x="277" y="830" width="20" height="40"/><rect class="w" x="305" y="830" width="17" height="25"/><rect class="l" x="328" y="830" width="42" height="58"/><rect class="l" x="380" y="830" width="38" height="38"/><rect class="v" x="428" y="830" width="32" height="88"/><rect class="v" x="467" y="830" width="28" height="60"/>
<rect class="w" x="30" y="1047" width="18" height="22"/><rect class="w" x="52" y="1047" width="18" height="22"/><rect class="w" x="74" y="1047" width="18" height="22"/><rect class="w" x="96" y="1047" width="19" height="22"/><rect class="w" x="118" y="1047" width="22" height="25"/><rect class="w" x="148" y="1047" width="20" height="30"/><rect class="w" x="175" y="1047" width="18" height="22"/><rect class="w" x="198" y="1047" width="19" height="22"/><rect class="w" x="220" y="1047" width="18" height="22"/><rect class="w" x="243" y="1047" width="20" height="53"/><rect class="w" x="268" y="1047" width="22" height="22"/><rect class="w" x="295" y="1047" width="20" height="22"/><rect class="w" x="320" y="1047" width="22" height="22"/><rect class="l" x="345" y="1047" width="37" height="20"/><rect class="w" x="387" y="1047" width="18" height="22"/><rect class="w" x="410" y="1047" width="20" height="58"/><rect class="v" x="435" y="1047" width="25" height="53"/><rect class="w" x="465" y="1047" width="20" height="22"/><rect class="w" x="490" y="1047" width="18" height="22"/><rect class="w" x="512" y="1047" width="18" height="22"/><rect class="w" x="535" y="1047" width="15" height="22"/>
<rect class="w" x="152" y="1168" width="18" height="22"/><rect class="w" x="175" y="1168" width="18" height="22"/><rect class="w" x="197" y="1168" width="18" height="22"/><rect class="w" x="220" y="1168" width="18" height="32"/><rect class="w" x="243" y="1168" width="19" height="22"/><rect class="w" x="265" y="1168" width="18" height="22"/><rect class="w" x="288" y="1168" width="17" height="22"/><rect class="w" x="312" y="1168" width="20" height="22"/><rect class="w" x="340" y="1168" width="20" height="22"/><rect class="w" x="367" y="1168" width="20" height="47"/><rect class="w" x="392" y="1168" width="18" height="42"/><rect class="w" x="413" y="1168" width="19" height="117"/>
<rect class="w" x="258" y="1352" width="17" height="20"/><rect class="w" x="280" y="1352" width="18" height="20"/><rect class="w" x="303" y="1352" width="17" height="20"/>
</g>
</g>
</g>

<g id="labels">
<text class="lab" x="452" y="363">(a)</text>
<text class="lab" x="1094" y="252">(b)</text>
<text class="lab" x="506" y="887">(c)</text>
<text class="lab" x="1137" y="887">(d)</text>
</g>
</svg>
